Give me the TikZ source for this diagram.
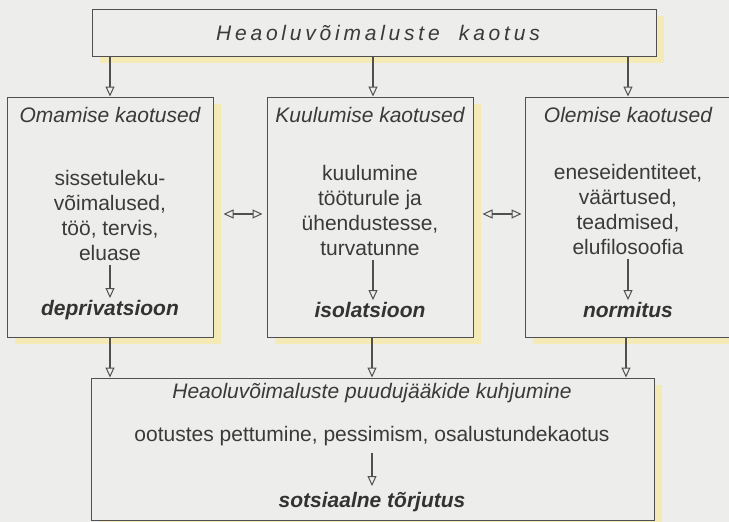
\documentclass[tikz,border=0pt]{standalone}
\usepackage{fontspec}
\setmainfont{Liberation Sans}
\usetikzlibrary{arrows.meta,shadows}
\definecolor{bg}{HTML}{EDEDEB}
\definecolor{shad}{HTML}{F3EAB6}
\definecolor{ln}{HTML}{505050}
\definecolor{tx}{HTML}{3A3A3A}
\begin{document}
\begin{tikzpicture}[x=1pt,y=-1pt,
  box/.style={draw=ln, fill=bg, line width=1pt, inner sep=0pt,
    drop shadow={shadow xshift=8pt, shadow yshift=-7pt, fill=shad, opacity=1}},
  ttl/.style={text=tx, font=\fontsize{21}{25}\selectfont\itshape, inner sep=0pt},
  body/.style={text=tx, font=\fontsize{21}{25}\selectfont, align=center, inner sep=2pt},
  bld/.style={text=black!80, font=\fontsize{21}{25}\selectfont\bfseries\itshape, inner sep=2pt},
  tip/.style={},
  arr/.style={draw=ln, line width=1.1pt, -{Triangle[open, length=10pt, width=9pt, line width=1pt]}},
  darr/.style={draw=ln, line width=1.1pt, {Triangle[open, length=10pt, width=9pt, line width=1pt]}-{Triangle[open, length=10pt, width=9pt, line width=1pt]}}
]
\fill[bg] (0,0) rectangle (729,522);
\useasboundingbox (0,0) rectangle (729,522);

% boxes
\node[box, minimum width=564pt, minimum height=47pt] (top) at (374,32.5) {};
\node[box, minimum width=206pt, minimum height=240pt] (L) at (110,217) {};
\node[box, minimum width=206pt, minimum height=240pt] (M) at (370,217) {};
\node[box, minimum width=206pt, minimum height=240pt] (R) at (628,217) {};
\node[box, minimum width=563pt, minimum height=142pt] (B) at (372.5,449) {};

% top text
\node[ttl] (topt) at (378,33) {\addfontfeature{LetterSpace=18}Heaoluvõimaluste\ \ kaotus};

% left column
\node[ttl] (Lt) at (110,115) {Omamise kaotused};
\node[body] (Lb) at (110,215.5) {sissetuleku-\\võimalused,\\töö, tervis,\\eluase};
\node[bld] (Ld) at (110,310) {deprivatsioon};

% middle column
\node[ttl] (Mt) at (370,115) {Kuulumise kaotused};
\node[body] (Mb) at (370,210.5) {kuulumine\\tööturule ja\\ühendustesse,\\turvatunne};
\node[bld] (Md) at (370,310) {isolatsioon};

% right column
\node[ttl] (Rt) at (628,115) {Olemise kaotused};
\node[body] (Rb) at (628,209.5) {eneseidentiteet,\\väärtused,\\teadmised,\\elufilosoofia};
\node[bld] (Rd) at (628,310) {normitus};

% bottom box
\node[ttl] (Bt) at (372,393) {Heaoluvõimaluste puudujääkide kuhjumine};
\node[body] (Bb) at (372,436) {ootustes pettumine, pessimism, osalustundekaotus};
\node[bld] (Bd) at (372,502) {sotsiaalne tõrjutus};

% arrows from top
\draw[arr] (top.south -| L) -- (L.north);
\draw[arr] ([xshift=3pt]top.south -| M) -- ([xshift=3pt]M.north);
\draw[arr] (top.south -| R) -- (R.north);

% arrows into bottom
\draw[arr] (L.south) -- (L.south |- B.north);
\draw[arr] ([xshift=2pt]M.south) -- ([xshift=2pt]M.south |- B.north);
\draw[arr] ([xshift=-2pt]R.south) -- ([xshift=-2pt]R.south |- B.north);

% internal arrows
\draw[arr, shorten <=2pt] (Lb.south) -- (Ld.north);
\draw[arr, shorten <=2pt] ([xshift=3pt]Mb.south) -- ([xshift=3pt]Md.north);
\draw[arr, shorten <=2pt] (Rb.south) -- (Rd.north);
\draw[arr, shorten <=5pt, shorten >=4pt] (Bb.south) -- (Bd.north);

% double arrows
\draw[darr] ([shift={(10pt,3pt)}]L.east) -- ([shift={(-4pt,3pt)}]M.west);
\draw[darr] ([shift={(9pt,3pt)}]M.east) -- ([shift={(-3pt,3pt)}]R.west);
\end{tikzpicture}
\end{document}
